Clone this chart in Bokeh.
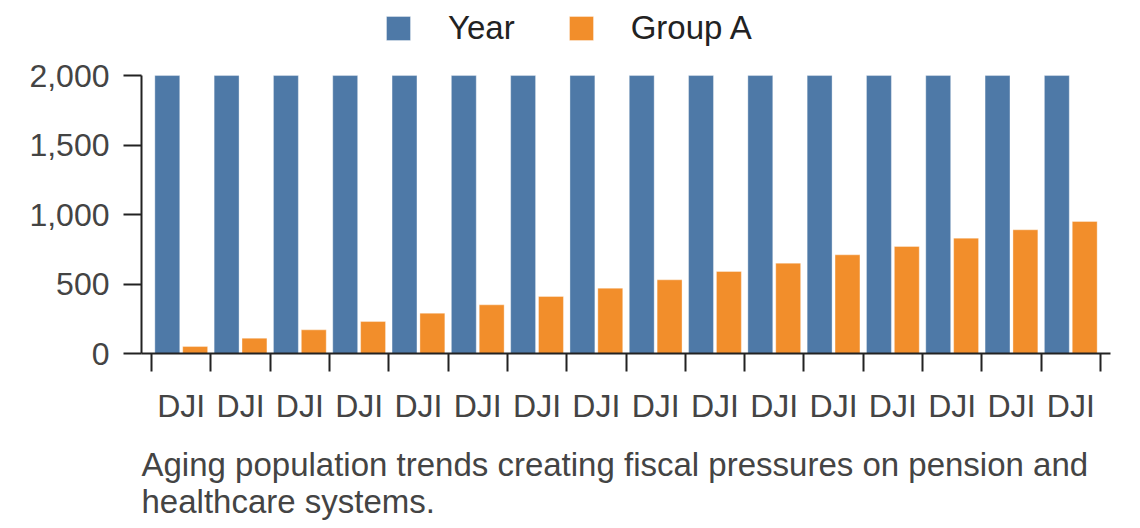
from bokeh.plotting import figure
from bokeh.models import (FixedTicker, NumeralTickFormatter, Legend, LegendItem,
                          Title, ColumnDataSource, Range1d)
from bokeh.transform import dodge
from bokeh.embed import file_html
from bokeh.resources import INLINE

# ---- data ----
categories = ["DJI", "DJI", "DJI", "DJI", "DJI", "DJI", "DJI", "DJI",
              "DJI", "DJI", "DJI", "DJI", "DJI", "DJI", "DJI", "DJI"]
year_values = [2000, 2000, 2000, 2000, 2000, 2000, 2000, 2000,
               2000, 2000, 2000, 2000, 2000, 2000, 2000, 2000]
group_a_values = [50, 110, 170, 230, 290, 350, 410, 470,
                  530, 590, 650, 710, 770, 830, 890, 950]
y_ticks = [0, 500, 1000, 1500, 2000]
series_names = ["Year", "Group A"]
caption = ("Aging population trends creating fiscal pressures on pension and\n"
           "healthcare systems.")

FONT = "Liberation Sans"
BLUE = "#4e79a7"
ORANGE = "#f28e2b"

centers = [i + 0.5 for i in range(len(categories))]
boundaries = [float(i) for i in range(len(categories) + 1)]
source = ColumnDataSource(dict(x=centers, year=year_values, group_a=group_a_values))

# frame reaches the top of the canvas so the legend can sit inside it;
# the y axis itself is bounded to 0..2000
p = figure(frame_width=969, frame_height=353,
           min_border_left=141, min_border_right=30, min_border_top=0, min_border_bottom=175,
           x_range=Range1d(-0.17, len(categories) + 0.17), y_range=Range1d(0, 2540),
           output_backend="svg", toolbar_location=None)

r1 = p.vbar(x=dodge("x", -0.235, range=p.x_range), top="year", width=0.42, source=source,
            fill_color=BLUE, line_color="white", line_alpha=0.35, line_width=1)
r2 = p.vbar(x=dodge("x", 0.235, range=p.x_range), top="group_a", width=0.42, source=source,
            fill_color=ORANGE, line_color="white", line_alpha=0.35, line_width=1)

p.grid.visible = False
p.outline_line_color = None
p.background_fill_color = "white"
p.border_fill_color = "white"

# x axis: ticks at category boundaries, labels centered
xa = p.xaxis[0]
xa.ticker = FixedTicker(ticks=centers, minor_ticks=boundaries)
xa.major_label_overrides = {c: lab for c, lab in zip(centers, categories)}
xa.major_tick_out = 0
xa.major_tick_in = 0
xa.minor_tick_out = 18
xa.minor_tick_in = 0
xa.minor_tick_line_width = 2
xa.minor_tick_line_color = "#222222"
xa.axis_line_width = 2
xa.axis_line_color = "#222222"
xa.major_label_standoff = 16
xa.major_label_text_font = FONT
xa.major_label_text_font_size = "32px"
xa.major_label_text_color = "#444444"

ya = p.yaxis[0]
ya.ticker = FixedTicker(ticks=y_ticks)
ya.formatter = NumeralTickFormatter(format="0,0")
ya.bounds = (0, 2000)
ya.major_tick_out = 18
ya.major_tick_in = 0
ya.minor_tick_out = 0
ya.minor_tick_in = 0
ya.major_tick_line_width = 2
ya.major_tick_line_color = "#222222"
ya.axis_line_width = 2
ya.axis_line_color = "#222222"
ya.major_label_standoff = 14
ya.major_label_text_font = FONT
ya.major_label_text_font_size = "32px"
ya.major_label_text_color = "#444444"

legend = Legend(items=[LegendItem(label=series_names[0], renderers=[r1]),
                       LegendItem(label=series_names[1], renderers=[r2])],
                orientation="horizontal", location=(242, 306),
                padding=0, margin=0, spacing=51, label_standoff=35,
                glyph_width=30, glyph_height=30,
                label_text_font=FONT, label_text_font_size="33px",
                label_text_color="#222222",
                border_line_color=None, background_fill_alpha=0)
p.add_layout(legend)

title = Title(text=caption, align="left", text_font=FONT, text_font_size="33px",
              text_font_style="normal", text_color="#444444", standoff=34)
p.add_layout(title, "below")

open("out.html", "w").write(file_html(p, INLINE))
